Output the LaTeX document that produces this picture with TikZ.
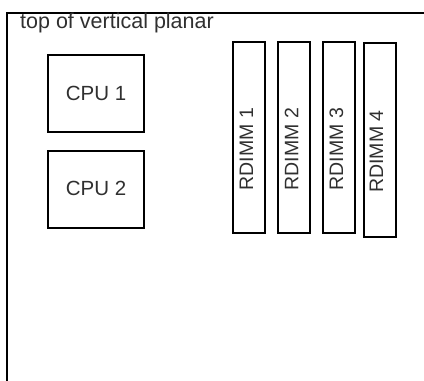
\documentclass[tikz,border=0pt]{standalone}
\usepackage{fontspec}
\setmainfont{Liberation Sans}
\definecolor{txt}{HTML}{303030}
\begin{document}
\begin{tikzpicture}[x=1pt,y=-1pt,
  box/.style={draw=black,line width=2pt,inner sep=0pt},
  lbl/.style={text=txt,inner sep=0pt,font=\fontsize{20.5}{24}\selectfont},
  rlbl/.style={text=txt,inner sep=0pt,rotate=90,font=\fontsize{19.5}{22}\selectfont}]
\useasboundingbox (0,0) rectangle (424,381);
\draw[line width=2pt] (7,381) -- (7,13) -- (424,13);
\node[text=txt,inner sep=0pt,font=\fontsize{21.5}{24}\selectfont,anchor=base west] (title) at (20,28.5) {top of vertical planar};
% CPUs
\node[box,minimum width=96pt,minimum height=77pt] (cpu1) at (96,93.5) {};
\node[lbl] (cpu1t) at (96,93) {CPU 1};
\node[box,minimum width=96pt,minimum height=77pt] (cpu2) at (96,189.5) {};
\node[lbl] (cpu2t) at (96,188.5) {CPU 2};
% RDIMMs
\node[box,minimum width=32pt,minimum height=191pt] (r1) at (249,137.5) {};
\node[box,minimum width=32pt,minimum height=191pt] (r2) at (294,137.5) {};
\node[box,minimum width=32pt,minimum height=191pt] (r3) at (339,137.5) {};
\node[box,minimum width=32pt,minimum height=194pt] (r4) at (380,139.5) {};
\node[rlbl] (r1t) at (246.5,149) {RDIMM 1};
\node[rlbl] (r2t) at (291.5,149) {RDIMM 2};
\node[rlbl] (r3t) at (336.5,149) {RDIMM 3};
\node[rlbl] (r4t) at (376.5,151.5) {RDIMM 4};
\end{tikzpicture}
\end{document}
